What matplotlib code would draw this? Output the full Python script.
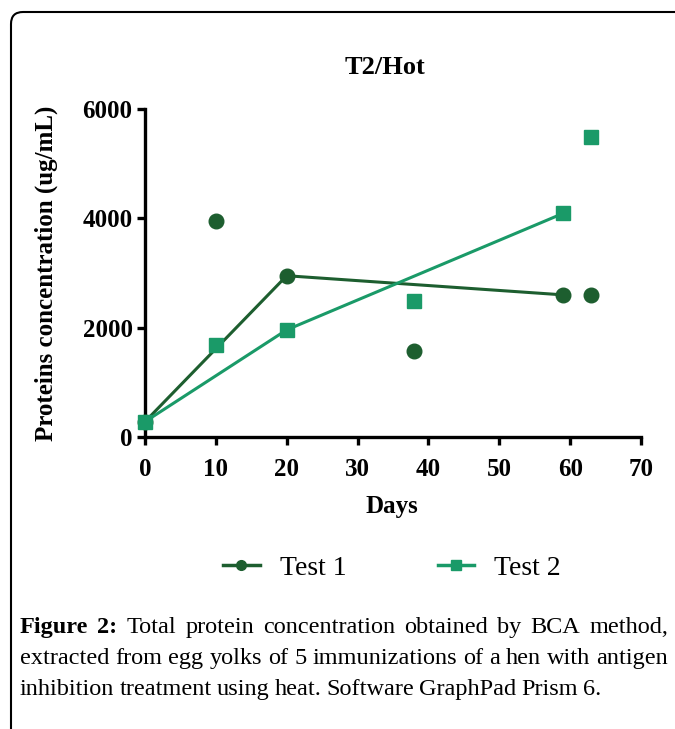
import matplotlib
matplotlib.use("Agg")
import matplotlib.pyplot as plt
import matplotlib.patches as patches
from matplotlib.lines import Line2D
from matplotlib.transforms import IdentityTransform

# Datos
days = [0, 10, 20, 38, 59, 63]
test1 = [280, 3960, 2950, 1570, 2600, 2600]
test2 = [280, 1690, 1960, 2480, 4090, 5490]
# puntos unidos por la linea (indices de days)
line_idx = [0, 2, 4]

series_names = ["Test 1", "Test 2"]
colors = ["#1d5e2f", "#1a9a68"]
x_ticks = [0, 10, 20, 30, 40, 50, 60, 70]
y_ticks = [0, 2000, 4000, 6000]

serif = "Liberation Serif"
W, H = 675, 729

fig = plt.figure(figsize=(W / 100, H / 100), dpi=100)
ax = fig.add_axes([145 / W, 1 - 437 / H, 496 / W, 328 / H])

for vals, col, mk in zip([test1, test2], colors, ["o", "s"]):
    ax.plot([days[i] for i in line_idx], [vals[i] for i in line_idx],
            color=col, lw=2.2, zorder=2)
    ax.plot(days, vals, ls="none", marker=mk, ms=10.5, color=col,
            mec=col, zorder=3, clip_on=False)

ax.set_xlim(0, 70)
ax.set_ylim(0, 6000)
ax.set_xticks(x_ticks)
ax.set_yticks(y_ticks)
ax.spines["top"].set_visible(False)
ax.spines["right"].set_visible(False)
for s in ["left", "bottom"]:
    ax.spines[s].set_linewidth(2.4)
ax.tick_params(width=2.4, length=6, direction="out")
ax.tick_params(axis="x", pad=9)
ax.tick_params(axis="y", pad=3)
for lab in ax.get_xticklabels() + ax.get_yticklabels():
    lab.set_fontfamily(serif)
    lab.set_fontweight("bold")
    lab.set_fontsize(18)

fig.text(385 / W, 1 - 67 / H, "T2/Hot", ha="center", va="center",
         family=serif, fontweight="bold", fontsize=19)
fig.text(46 / W, 1 - 273 / H, "Proteins concentration (ug/mL)", rotation=90,
         ha="center", va="center", family=serif, fontweight="bold", fontsize=18)
fig.text(392 / W, 1 - 507 / H, "Days", ha="center", va="center",
         family=serif, fontweight="bold", fontsize=18)

# Leyenda
handles = [Line2D([], [], color=colors[0], marker="o", ms=7, lw=2.5),
           Line2D([], [], color=colors[1], marker="s", ms=7, lw=2.5)]
fig.legend(handles, series_names, loc="center", bbox_to_anchor=(392 / W, 1 - 568 / H),
           ncol=2, frameon=False, handlelength=1.3, handletextpad=0.72,
           columnspacing=3.3, prop={"family": serif, "size": 20})

# Marco redondeado
frame = patches.FancyBboxPatch((11, -20), 720, H - 12 + 20,
                               boxstyle="round,pad=0,rounding_size=12",
                               transform=IdentityTransform(), fill=False,
                               lw=1.5, ec="black")
fig.add_artist(frame)

# Pie de figura justificado
cap_lines = [
    [("Figure", True), ("2:", True), ("Total", False), ("protein", False),
     ("concentration", False), ("obtained", False), ("by", False),
     ("BCA", False), ("method,", False)],
    [(w, False) for w in "extracted from egg yolks of 5 immunizations of a hen with antigen".split()],
    [(w, False) for w in "inhibition treatment using heat. Software GraphPad Prism 6.".split()],
]
cap_y = [633, 664, 695]
renderer = fig.canvas.get_renderer()
for k, (words, yy) in enumerate(zip(cap_lines, cap_y)):
    texts = []
    for w, b in words:
        texts.append(fig.text(0, 1 - yy / H, w, va="baseline", ha="left",
                              family=serif, fontsize=17.5,
                              fontweight="bold" if b else "normal"))
    widths = [t.get_window_extent(renderer).width for t in texts]
    if k < 2:
        gap = (648 - sum(widths)) / (len(texts) - 1)
    else:
        gap = 5
    x = 20
    for t, w in zip(texts, widths):
        t.set_x(x / W)
        x += w + gap

fig.savefig("out.png", dpi=100)
